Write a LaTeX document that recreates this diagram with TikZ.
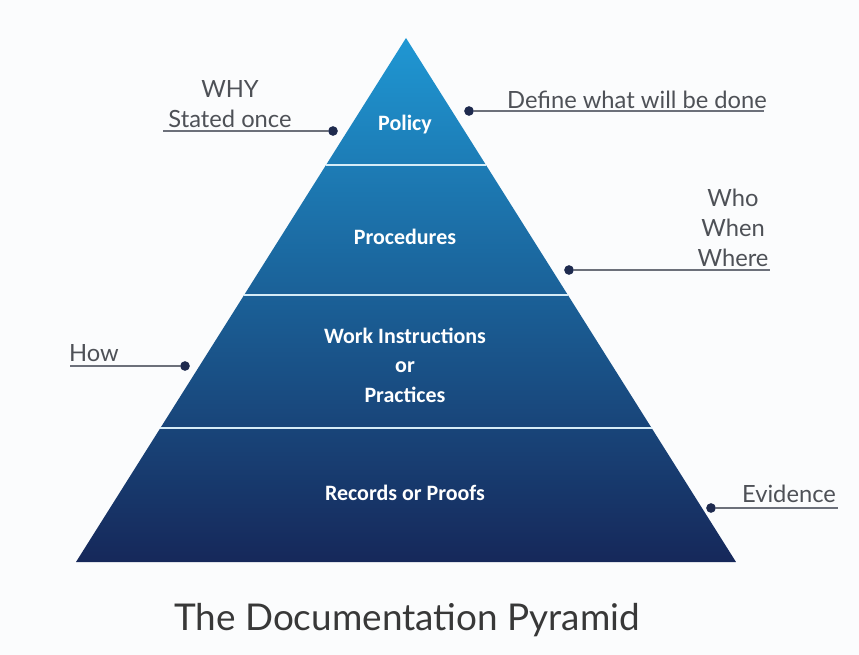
\documentclass[tikz,border=0pt]{standalone}
\usepackage{fontspec}
\setmainfont{Lato}
\newfontfamily\bandfont{Carlito}
\usetikzlibrary{calc}
\definecolor{bg}{HTML}{FBFCFD}
\definecolor{topblue}{HTML}{1F97D3}
\definecolor{navy}{HTML}{16285A}
\definecolor{sep}{HTML}{D6ECF7}
\definecolor{note}{HTML}{4E5157}
\definecolor{rule}{HTML}{6C707A}
\definecolor{dotc}{HTML}{1E2A4E}
\tikzset{
  band/.style={text=white, font=\bandfont\bfseries\fontsize{12.5}{16.8}\selectfont, align=center},
  sepline/.style={draw=sep, line width=1.6pt},
  lead/.style={draw=rule, line width=0.9pt},
  dot/.style={circle, fill=dotc, inner sep=0pt, minimum size=5.5pt},
  lab/.style={text=note, font=\fontsize{13.5}{17}\selectfont, align=center},
  caption/.style={text=black!78, font=\fontsize{21}{25}\selectfont},
}
\begin{document}
\begin{tikzpicture}[x=0.02cm,y=-0.02cm]
  \fill[bg] (0,0) rectangle (859,655);
  \coordinate (A) at (406,38);
  \coordinate (L) at (76,562);
  \coordinate (R) at (736,562);
  \shade[top color=topblue, bottom color=navy] (A)--(L)--(R)--cycle;
  % band separators
  \draw[sepline] ($(A)!0.2424!(L)$) -- ($(A)!0.2424!(R)$);
  \draw[sepline] ($(A)!0.4905!(L)$) -- ($(A)!0.4905!(R)$);
  \draw[sepline] ($(A)!0.7443!(L)$) -- ($(A)!0.7443!(R)$);
  \node[band] (policy) at (405,125) {Policy};
  \node[band] (proc) at (405,237) {Procedures};
  \node[band] (work) at (405,365) {Work Instructions\\or\\Practices};
  \node[band] (recs) at (405,493) {Records or Proofs};
  % side notes
  \node[lab] (why) at (230,104) {WHY\\Stated once};
  \node[dot] (dwhy) at (333,131) {};
  \coordinate (ewhy) at (163,131);
  \draw[lead] (ewhy) -- (dwhy);
  \node[lab] (define) at (637,100) {Define what will be done};
  \node[dot] (ddef) at (469,111) {};
  \coordinate (edef) at (764,111);
  \draw[lead] (ddef) -- (edef);
  \node[lab] (who) at (733,228) {Who\\When\\Where};
  \node[dot] (dwho) at (569,270) {};
  \coordinate (ewho) at (770,270);
  \draw[lead] (dwho) -- (ewho);
  \node[lab] (how) at (94,353) {How};
  \node[dot] (dhow) at (185,366) {};
  \coordinate (ehow) at (70,366);
  \draw[lead] (ehow) -- (dhow);
  \node[lab] (evid) at (789,494) {Evidence};
  \node[dot] (devid) at (711,508) {};
  \coordinate (eevid) at (838,508);
  \draw[lead] (devid) -- (eevid);
  \node[caption] (title) at (407,620) {The Documentation Pyramid};
\end{tikzpicture}
\end{document}
